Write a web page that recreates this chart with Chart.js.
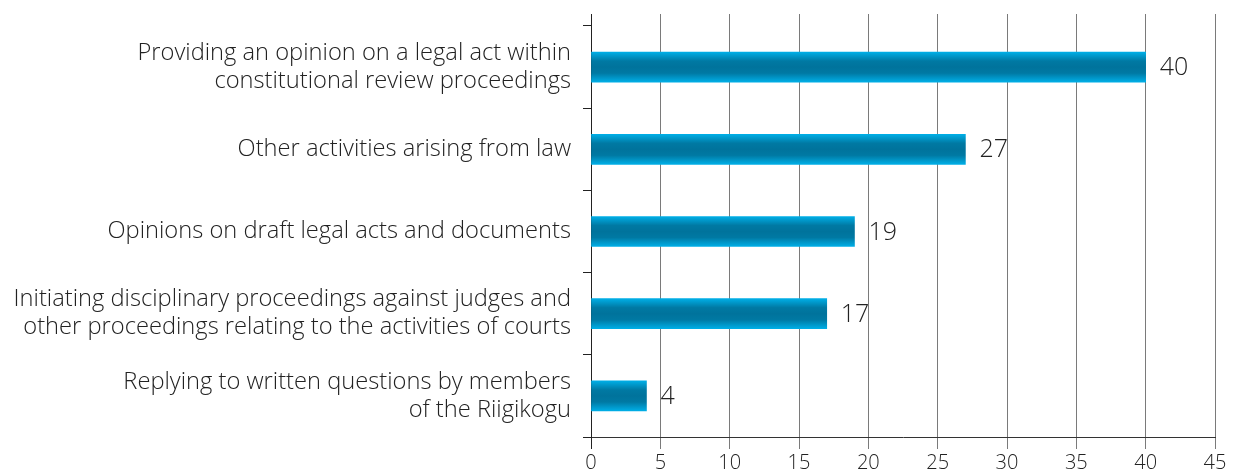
<!DOCTYPE html>
<html>
<head>
<meta charset="utf-8">
<script src="https://cdn.jsdelivr.net/npm/chart.js@4.4.0/dist/chart.umd.min.js"></script>
<style>
  html, body { margin: 0; padding: 0; background: #fff; }
  #wrap { width: 1233px; height: 472px; }
</style>
</head>
<body>
<div id="wrap"><canvas id="chart"></canvas></div>
<script>
const categories = [
  ["Providing an opinion on a legal act within", "constitutional review proceedings"],
  ["Other activities arising from law"],
  ["Opinions on draft legal acts and documents"],
  ["Initiating disciplinary proceedings against judges and", "other proceedings relating to the activities of courts"],
  ["Replying to written questions by members", "of the Riigikogu"]
];
const values = [40, 27, 19, 17, 4];
const xTicks = [0, 5, 10, 15, 20, 25, 30, 35, 40, 45];

const FONT = "'Open Sans', sans-serif";

// grid lines poke out above the plot area
const gridExtend = {
  id: 'gridExtend',
  beforeDatasetsDraw(chart) {
    const {ctx, chartArea, scales} = chart;
    ctx.save();
    scales.x.ticks.forEach((t, i) => {
      const x = Math.round(scales.x.getPixelForValue(t.value) - 0.5) + 0.5;
      ctx.strokeStyle = i === 0 ? '#222' : '#7a7a7a';
      ctx.lineWidth = 1;
      ctx.beginPath();
      ctx.moveTo(x, chartArea.top - 12);
      ctx.lineTo(x, chartArea.top);
      ctx.stroke();
    });
    ctx.restore();
  }
};

const valueLabels = {
  id: 'valueLabels',
  afterDatasetsDraw(chart) {
    const {ctx} = chart;
    ctx.save();
    ctx.font = "300 25px " + FONT;
    ctx.fillStyle = '#222';
    ctx.textBaseline = 'middle';
    chart.getDatasetMeta(0).data.forEach((bar, i) => {
      ctx.fillText(values[i], bar.x + 14, bar.y + 1);
    });
    ctx.restore();
  }
};

function barGradient(context) {
  const chart = context.chart;
  const y = chart.scales.y;
  if (!y || context.dataIndex === undefined) return '#00749e';
  const cy = y.getPixelForValue(context.dataIndex);
  if (!isFinite(cy)) return '#00749e';
  const g = chart.ctx.createLinearGradient(0, cy - 15, 0, cy + 15);
  g.addColorStop(0, '#00aee6');
  g.addColorStop(0.3, '#0079a3');
  g.addColorStop(0.5, '#00739c');
  g.addColorStop(0.7, '#0079a3');
  g.addColorStop(1, '#00aee6');
  return g;
}

const chart = new Chart(document.getElementById('chart'), {
  type: 'bar',
  data: {
    labels: categories,
    datasets: [{
      data: values,
      backgroundColor: barGradient,
      borderWidth: 0,
      barThickness: 30
    }]
  },
  options: {
    indexAxis: 'y',
    responsive: true,
    maintainAspectRatio: false,
    animation: false,
    layout: { padding: { left: 0, right: 18, top: 26, bottom: 0 } },
    plugins: { legend: { display: false }, tooltip: { enabled: false } },
    scales: {
      x: {
        min: 0,
        max: 45,
        afterBuildTicks(scale) { scale.ticks = xTicks.map(v => ({value: v})); },
        afterFit(scale) { scale.height = 35; },
        border: { display: true, color: '#333', width: 1 },
        grid: {
          color: ctx => ctx.index === 0 ? '#222' : '#7a7a7a',
          lineWidth: 1,
          tickLength: 12,
          drawTicks: true
        },
        ticks: {
          color: '#222',
          font: { family: FONT, size: 20, weight: 300 },
          padding: 2
        }
      },
      y: {
        afterFit(scale) {
          scale.width = 591;
          scale.paddingTop = 0;
          scale.paddingBottom = 0;
        },
        border: { display: true, color: '#222', width: 1 },
        grid: {
          offset: true,
          drawOnChartArea: false,
          color: '#222',
          tickLength: 8
        },
        ticks: {
          color: '#222',
          font: { family: FONT, size: 23.7, weight: 300, lineHeight: 1.18 },
          padding: 12
        }
      }
    }
  },
  plugins: [gridExtend, valueLabels]
});
chart.update();
</script>
</body>
</html>
